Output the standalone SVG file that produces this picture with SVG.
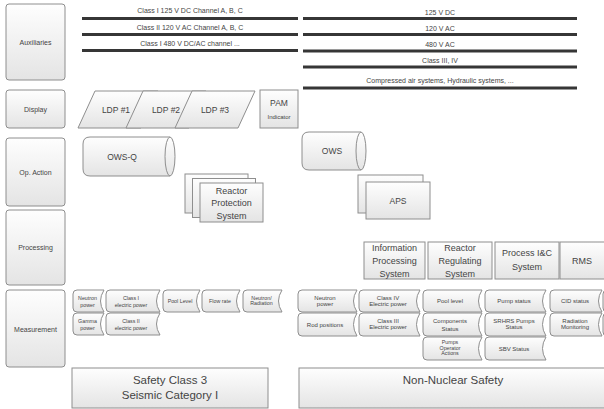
<svg xmlns="http://www.w3.org/2000/svg" width="604" height="409" viewBox="0 0 604 409">
<defs>
<linearGradient id="g" x1="0" y1="0" x2="0" y2="1">
<stop offset="0" stop-color="#fefefe"/>
<stop offset="1" stop-color="#e4e4e4"/>
</linearGradient>
<style>
.b{fill:url(#g);stroke:#8e8e8e;stroke-width:1}
.w{fill:#ffffff;stroke:#8e8e8e;stroke-width:1}
.ln{fill:none;stroke:#363636;stroke-width:3}
text{font-family:"Liberation Sans",Arial,sans-serif;fill:#444444;text-anchor:middle}
.s7{font-size:7px}
.s6{font-size:6px}
.s55{font-size:5.3px}
.s8{font-size:8.5px}
.s9{font-size:9px}
.s11{font-size:11.5px}
</style>
</defs>
<rect width="604" height="409" fill="#ffffff"/>

<g id="labels">
<g id="lbl-aux"><rect class="b" x="6" y="4" width="59" height="76" rx="3"/><text class="s7" x="35.5" y="45">Auxiliaries</text></g>
<g id="lbl-display"><rect class="b" x="6" y="90" width="59" height="38" rx="3"/><text class="s7" x="35.5" y="111.5">Display</text></g>
<g id="lbl-op"><rect class="b" x="6" y="138" width="59" height="68" rx="3"/><text class="s7" x="35.5" y="174.5">Op. Action</text></g>
<g id="lbl-proc"><rect class="b" x="6" y="210" width="59" height="75" rx="3"/><text class="s7" x="35.5" y="250">Processing</text></g>
<g id="lbl-meas"><rect class="b" x="6" y="290" width="59" height="77" rx="3"/><text class="s7" x="35.5" y="332">Measurement</text></g>
</g>

<g id="connectors">
<g id="bus-left">
<line class="ln" x1="82" y1="18.5" x2="298" y2="18.5"/>
<line class="ln" x1="82" y1="34.5" x2="298" y2="34.5"/>
<line class="ln" x1="82" y1="50.5" x2="298" y2="50.5"/>
</g>
<g id="bus-right">
<line class="ln" x1="303" y1="18.5" x2="577" y2="18.5"/>
<line class="ln" x1="303" y1="34.5" x2="577" y2="34.5"/>
<line class="ln" x1="303" y1="51" x2="577" y2="51"/>
<line class="ln" x1="303" y1="67" x2="577" y2="67"/>
<line class="ln" x1="303" y1="88" x2="577" y2="88"/>
</g>
</g>

<g id="bus-labels">
<text class="s7" x="190" y="13">Class I 125 V DC Channel A, B, C</text>
<text class="s7" x="190" y="29.5">Class II 120 V AC Channel A, B, C</text>
<text class="s7" x="190" y="45.5">Class I 480 V DC/AC channel ...</text>
<text class="s7" x="440" y="14.5">125 V DC</text>
<text class="s7" x="440" y="30.5">120 V AC</text>
<text class="s7" x="440" y="46.5">480 V AC</text>
<text class="s7" x="440" y="63">Class III, IV</text>
<text class="s7" x="440" y="83">Compressed air systems, Hydraulic systems, ...</text>
</g>

<g id="ldp1"><polygon class="b" points="95,91 158,91 141,128 78,128"/><text class="s8" x="116" y="113">LDP #1</text></g>
<g id="ldp2"><polygon class="b" points="143,91 206,91 189,128 126,128"/><text class="s8" x="166" y="113">LDP #2</text></g>
<g id="ldp3"><polygon class="b" points="192,91 255,91 238,128 175,128"/><text class="s8" x="215" y="113">LDP #3</text></g>
<g id="pam"><rect class="b" x="260" y="90" width="38" height="38"/><text class="s8" x="279" y="106">PAM</text><text class="s6" x="279" y="118.5">Indicator</text></g>

<g id="ows-q">
<path class="b" d="M90,137 H170 A5,19.5 0 0 1 170,176 H90 Q83,176 83,169 V144 Q83,137 90,137 Z"/>
<path class="b" d="M170,137 A5,19.5 0 0 0 170,176"/>
<text class="s8" x="122" y="160">OWS-Q</text>
</g>
<g id="ows">
<path class="b" d="M309,132 H361 A5,19 0 0 1 361,170 H309 Q302,170 302,163 V139 Q302,132 309,132 Z"/>
<path class="b" d="M361,132 A5,19 0 0 0 361,170"/>
<text class="s8" x="332" y="154">OWS</text>
</g>

<g id="rps">
<rect class="b" x="185" y="174" width="63" height="39"/>
<rect class="b" x="192.5" y="178.5" width="63" height="39"/>
<rect class="b" x="200" y="183" width="63" height="39"/>
<text class="s9" x="231.5" y="193.5">Reactor</text>
<text class="s9" x="231.5" y="206">Protection</text>
<text class="s9" x="231.5" y="218.5">System</text>
</g>
<g id="aps">
<rect class="b" x="358" y="175" width="65" height="38"/>
<rect class="b" x="366" y="182" width="64" height="37"/>
<text class="s8" x="398" y="203.5">APS</text>
</g>

<g id="ips"><rect class="b" x="364" y="242" width="61" height="37"/><text class="s9" x="394.5" y="251">Information</text><text class="s9" x="394.5" y="264">Processing</text><text class="s9" x="394.5" y="277">System</text></g>
<g id="rrs"><rect class="b" x="428" y="242" width="64" height="37"/><text class="s9" x="460" y="251">Reactor</text><text class="s9" x="460" y="264">Regulating</text><text class="s9" x="460" y="277">System</text></g>
<g id="pic"><rect class="b" x="495" y="242" width="64" height="37"/><text class="s9" x="527" y="256">Process I&amp;C</text><text class="s9" x="527" y="270">System</text></g>
<g id="rms"><rect class="b" x="560" y="242" width="46" height="37"/><text class="s9" x="582" y="264">RMS</text></g>

<g id="meas-left">
<g id="m-neutron-l"><path class="b" d="M77,290 H104 Q97,301 104,312 H77 Q73,312 73,308 V294 Q73,290 77,290 Z"/><text class="s55" x="87.5" y="299.5">Neutron</text><text class="s55" x="87.5" y="307">power</text></g>
<g id="m-class1"><path class="b" d="M110,290 H160 Q153,301 160,312 H110 Q106,312 106,308 V294 Q106,290 110,290 Z"/><text class="s55" x="131" y="299.5">Class I</text><text class="s55" x="131" y="307">electric power</text></g>
<g id="m-pool-l"><path class="b" d="M167,290 H200 Q193,301 200,312 H167 Q163,312 163,308 V294 Q163,290 167,290 Z"/><text class="s55" x="180" y="303">Pool Level</text></g>
<g id="m-flow"><path class="b" d="M206,290 H240 Q233,301 240,312 H206 Q202,312 202,308 V294 Q202,290 206,290 Z"/><text class="s55" x="220" y="303">Flow rate</text></g>
<g id="m-nrad"><path class="b" d="M247,290 H282 Q275,301 282,312 H247 Q243,312 243,308 V294 Q243,290 247,290 Z"/><text class="s55" x="261.5" y="299.5">Neutron/</text><text class="s55" x="261.5" y="305">Radiation</text></g>
<g id="m-gamma"><path class="b" d="M77,313 H104 Q97,324 104,335 H77 Q73,335 73,331 V317 Q73,313 77,313 Z"/><text class="s55" x="87.5" y="322.5">Gamma</text><text class="s55" x="87.5" y="330">power</text></g>
<g id="m-class2"><path class="b" d="M110,313 H160 Q153,324 160,335 H110 Q106,335 106,331 V317 Q106,313 110,313 Z"/><text class="s55" x="131" y="322.5">Class II</text><text class="s55" x="131" y="330">electric power</text></g>
</g>

<g id="meas-right">
<g id="m-neutron-r"><path class="b" d="M302,290 H357 Q350,301 357,312 H302 Q298,312 298,308 V294 Q298,290 302,290 Z"/><text class="s6" x="325" y="299.5">Neutron</text><text class="s6" x="325" y="305.5">power</text></g>
<g id="m-rod"><path class="b" d="M302,313 H357 Q350,324.5 357,336 H302 Q298,336 298,332 V317 Q298,313 302,313 Z"/><text class="s6" x="325" y="326.5">Rod positions</text></g>
<g id="m-class4"><path class="b" d="M363,290 H420 Q413,301 420,312 H363 Q359,312 359,308 V294 Q359,290 363,290 Z"/><text class="s6" x="388" y="299.5">Class IV</text><text class="s6" x="388" y="305.5">Electric power</text></g>
<g id="m-class3"><path class="b" d="M363,313 H420 Q413,324.5 420,336 H363 Q359,336 359,332 V317 Q359,313 363,313 Z"/><text class="s6" x="388" y="323">Class III</text><text class="s6" x="388" y="329">Electric power</text></g>
<g id="m-pool-r"><path class="b" d="M427,290 H482 Q475,301 482,312 H427 Q423,312 423,308 V294 Q423,290 427,290 Z"/><text class="s6" x="450" y="303">Pool level</text></g>
<g id="m-comp"><path class="b" d="M427,313 H482 Q475,324.5 482,336 H427 Q423,336 423,332 V317 Q423,313 427,313 Z"/><text class="s6" x="450" y="322.5">Components</text><text class="s6" x="450" y="331">Status</text></g>
<g id="m-pumpop"><path class="b" d="M427,337 H482 Q475,348.5 482,360 H427 Q423,360 423,356 V341 Q423,337 427,337 Z"/><text class="s55" x="450" y="344">Pumps</text><text class="s55" x="450" y="349.5">Operator</text><text class="s55" x="450" y="355">Actions</text></g>
<g id="m-pump"><path class="b" d="M489,290 H546 Q539,301 546,312 H489 Q485,312 485,308 V294 Q485,290 489,290 Z"/><text class="s6" x="514" y="303">Pump status</text></g>
<g id="m-srhrs"><path class="b" d="M489,313 H546 Q539,324.5 546,336 H489 Q485,336 485,332 V317 Q485,313 489,313 Z"/><text class="s6" x="514" y="322.5">SRHRS Pumps</text><text class="s6" x="514" y="328.5">Status</text></g>
<g id="m-sbv"><path class="b" d="M489,337 H546 Q539,348.5 546,360 H489 Q485,360 485,356 V341 Q485,337 489,337 Z"/><text class="s6" x="514" y="350.5">SBV Status</text></g>
<g id="m-cid"><path class="b" d="M554,290 H602 Q595,301 602,312 H554 Q550,312 550,308 V294 Q550,290 554,290 Z"/><text class="s6" x="575" y="303">CID status</text></g>
<g id="m-rad"><path class="b" d="M554,313 H602 Q595,324.5 602,336 H554 Q550,336 550,332 V317 Q550,313 554,313 Z"/><text class="s6" x="575" y="322.5">Radiation</text><text class="s6" x="575" y="328.5">Monitoring</text></g>
<g id="m-edge"><path class="b" d="M607,290 H640 V312 H607 Q603,312 603,308 V294 Q603,290 607,290 Z"/><path class="b" d="M607,313 H640 V336 H607 Q603,336 603,332 V317 Q603,313 607,313 Z"/></g>
</g>

<g id="safety3"><rect class="b" x="72" y="368" width="196" height="40"/><text class="s11" x="170" y="384">Safety Class 3</text><text class="s11" x="170" y="399">Seismic Category I</text></g>
<g id="nns"><rect class="b" x="299" y="368" width="310" height="40"/><text class="s11" x="453" y="384">Non-Nuclear Safety</text></g>
</svg>
